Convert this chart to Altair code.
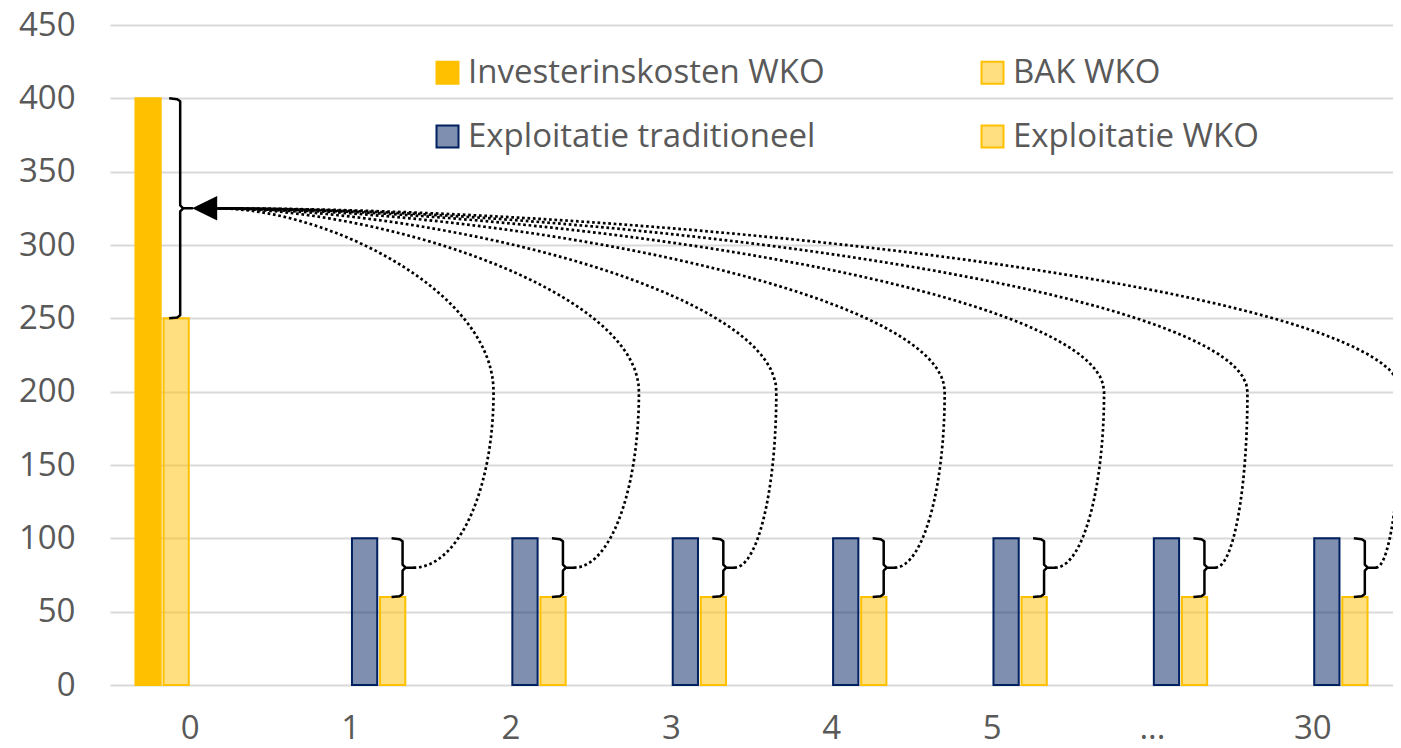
import altair as alt
import pandas as pd
import numpy as np

# ---------------- data ----------------
categories = ["0", "1", "2", "3", "4", "5", "...", "30"]
investering_wko = [400, None, None, None, None, None, None, None]
bak_wko = [250, None, None, None, None, None, None, None]
exploitatie_trad = [None, 100, 100, 100, 100, 100, 100, 100]
exploitatie_wko = [None, 60, 60, 60, 60, 60, 60, 60]

series_names = ["Investerinskosten WKO", "BAK WKO", "Exploitatie traditioneel", "Exploitatie WKO"]
series_values = [investering_wko, bak_wko, exploitatie_trad, exploitatie_wko]
fill_colors = ["#FFC000", "rgba(255,192,0,0.5)", "rgba(0,32,96,0.5)", "rgba(255,192,0,0.5)"]
stroke_colors = ["#FFC000", "#FFC000", "#002060", "#FFC000"]

rows = []
for name, vals in zip(series_names, series_values):
    for cat, v in zip(categories, vals):
        if v is not None:
            rows.append({"cat": cat, "series": name, "value": v})
bars_df = pd.DataFrame(rows)

# ---------------- geometry / style ----------------
W, H = 1283, 660
YMAX = 450
NCAT = len(categories)
STEP = W / NCAT          # px per category
PXV = H / YMAX           # px per value unit
FONT = "Open Sans"
TXT = "#595959"
# horizontal reach (px from category centre) of each connector loop
PEAK_DX = [0, 143, 128, 105, 113, 112, 95, 88]


def ux(i, dx_px):
    """category index + pixel offset from its centre -> continuous x unit"""
    return i + 0.5 + dx_px / STEP


def brace(i, spine_dx, top, bottom, tip=11, serif=11):
    hpx = (top - bottom) * PXV
    mid = (top + bottom) / 2
    pts = [(-serif, 0), (-3, 0.8), (0, 3), (0, hpx / 2 - 3), (3, hpx / 2), (tip, hpx / 2),
           (3, hpx / 2), (0, hpx / 2 + 3), (0, hpx - 3), (-3, hpx - 0.8), (-serif, hpx)]
    return [(ux(i, spine_dx + dx), top - dy / PXV) for dx, dy in pts], (ux(i, spine_dx + tip), mid)


def bezier(p0, p1, p2, p3, n=40):
    t = np.linspace(0, 1, n)[:, None]
    p0, p1, p2, p3 = map(np.array, (p0, p1, p2, p3))
    return ((1 - t) ** 3) * p0 + 3 * ((1 - t) ** 2) * t * p1 + 3 * (1 - t) * t ** 2 * p2 + t ** 3 * p3


brace_rows = []
curve_rows = []

# big brace at year 0
pts0, tip0 = brace(0, -10, investering_wko[0], bak_wko[0], tip=12, serif=11)
for k, (u, v) in enumerate(pts0):
    brace_rows.append({"id": "b0", "k": k, "u": u, "v": v})
arrow_end_u = tip0[0] + 25 / STEP       # base of arrow head
arrow_mid_u = tip0[0] + 12.5 / STEP
arrow_v = tip0[1]
arrow_df = pd.DataFrame({"u": [arrow_mid_u], "v": [arrow_v]})

for i in range(1, NCAT):
    top, bottom = exploitatie_trad[i], exploitatie_wko[i]
    pts, tip = brace(i, 52, top, bottom)
    for k, (u, v) in enumerate(pts):
        brace_rows.append({"id": f"b{i}", "k": k, "u": u, "v": v})
    peak_u = ux(i, PEAK_DX[i])
    peak_v = 200
    seg_a = bezier(tip, (tip[0] + 0.55 * (peak_u - tip[0]), tip[1]), (peak_u, 132), (peak_u, peak_v))
    seg_b = bezier((peak_u, peak_v), (peak_u, 268),
                   (arrow_end_u + 0.4 * (peak_u - arrow_end_u), arrow_v), (arrow_end_u, arrow_v))
    allp = np.vstack([seg_a, seg_b[1:]])
    for k, (u, v) in enumerate(allp):
        curve_rows.append({"id": f"c{i}", "k": k, "u": float(u), "v": float(v)})

brace_df = pd.DataFrame(brace_rows)
curve_df = pd.DataFrame(curve_rows)

# ---------------- chart ----------------
legend = alt.Legend(
    orient="none", legendX=321, legendY=31, columns=2, direction="horizontal",
    columnPadding=151, rowPadding=30,
    symbolType="square", symbolSize=484, symbolStrokeWidth=2,
    labelFont=FONT, labelFontSize=33, labelColor=TXT, labelOffset=4, labelLimit=700,
    padding=0, title=None,
)

bars = alt.Chart(bars_df).mark_bar(strokeWidth=2).encode(
    x=alt.X("cat:N", sort=categories, title=None,
            scale=alt.Scale(domain=categories, paddingInner=0.3, paddingOuter=0.15),
            axis=alt.Axis(labelAngle=0, labelFont=FONT, labelFontSize=33, labelColor=TXT,
                          labelPadding=27, domain=False, ticks=False, grid=False)),
    xOffset=alt.XOffset("series:N", scale=alt.Scale(domain=series_names, paddingInner=0.1, paddingOuter=0.05)),
    y=alt.Y("value:Q", title=None,
            scale=alt.Scale(domain=[0, YMAX], nice=False),
            axis=alt.Axis(values=list(range(0, YMAX + 1, 50)), grid=True, gridColor="#D9D9D9",
                          gridWidth=2, domain=False, ticks=False, labelFont=FONT, labelFontSize=33,
                          labelColor=TXT, labelPadding=35)),
    fill=alt.Fill("series:N", scale=alt.Scale(domain=series_names, range=fill_colors), legend=legend, title=None),
    stroke=alt.Stroke("series:N", scale=alt.Scale(domain=series_names, range=stroke_colors), legend=legend, title=None),
)

xq = alt.X("u:Q", scale=alt.Scale(domain=[0, NCAT], nice=False, zero=False), axis=None)
yq = alt.Y("v:Q", title=None)

braces = alt.Chart(brace_df).mark_line(color="black", strokeWidth=2.5, strokeJoin="round").encode(
    x=xq, y=yq, detail="id:N", order="k:Q")

curves = alt.Chart(curve_df).mark_line(color="black", strokeWidth=2.7, strokeDash=[2.7, 2.7]).encode(
    x=xq, y=yq, detail="id:N", order="k:Q")

arrow = alt.Chart(arrow_df).mark_point(shape="M -1 0 L 1 -0.98 L 1 0.98 Z", filled=True, size=625,
                                       color="black", opacity=1).encode(x=xq, y=yq)

chart = alt.layer(bars, curves, braces, arrow).resolve_scale(x="independent").properties(
    width=W, height=H,
    autosize=alt.AutoSizeParams(type="none"),
    padding={"left": 102, "top": 17, "right": 0, "bottom": 63},
    background="white",
).configure_view(stroke=None)

chart.save("out.html", embed_options={"renderer": "svg", "actions": False})
